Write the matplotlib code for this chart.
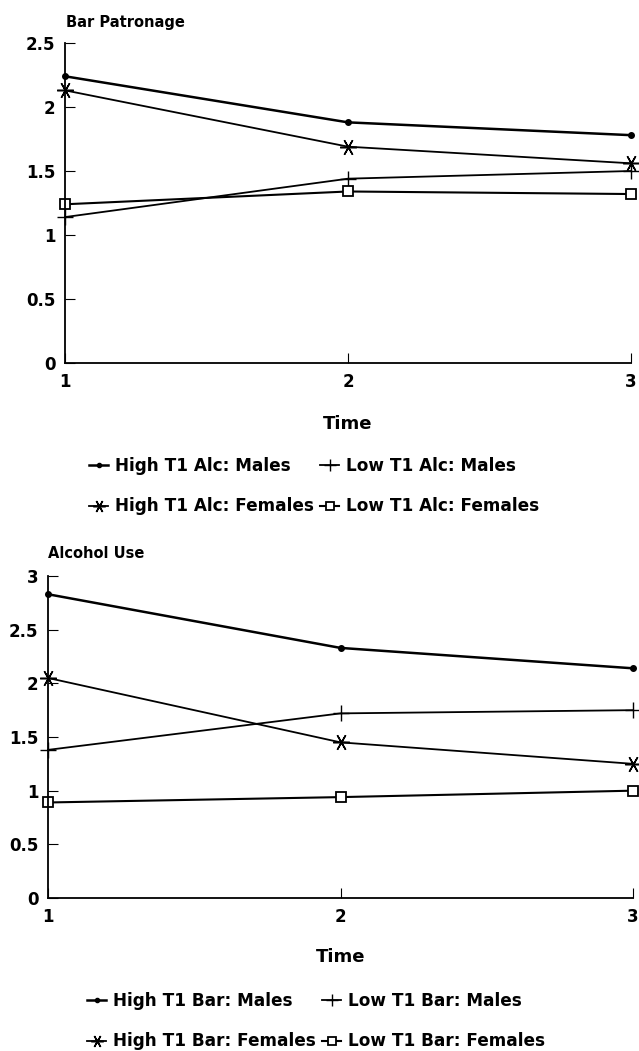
import numpy as np
import matplotlib
matplotlib.use("Agg")
import matplotlib.pyplot as plt

# ── Data ──────────────────────────────────────────────────────────────────────
time = [1, 2, 3]

# Bar Patronage (top panel)
bar_high_males   = [2.24, 1.88, 1.78]
bar_low_males    = [1.14, 1.44, 1.50]
bar_high_females = [2.13, 1.69, 1.56]
bar_low_females  = [1.24, 1.34, 1.32]
bar_labels = ["High T1 Alc: Males", "Low T1 Alc: Males",
              "High T1 Alc: Females", "Low T1 Alc: Females"]
bar_yticks = [0, 0.5, 1, 1.5, 2, 2.5]

# Alcohol Use (bottom panel)
alc_high_males   = [2.83, 2.33, 2.14]
alc_low_males    = [1.38, 1.72, 1.75]
alc_high_females = [2.05, 1.45, 1.25]
alc_low_females  = [0.89, 0.94, 1.00]
alc_labels = ["High T1 Bar: Males", "Low T1 Bar: Males",
              "High T1 Bar: Females", "Low T1 Bar: Females"]
alc_yticks = [0, 0.5, 1, 1.5, 2, 2.5, 3]

# ── Style ─────────────────────────────────────────────────────────────────────
plt.rcParams.update({
    "font.family": "DejaVu Sans",
    "font.weight": "bold",
    "font.size": 12,
})

W, H = 639, 1051
fig = plt.figure(figsize=(W / 100, H / 100), dpi=100)

ASTER = (6, 2, 90)
STYLES = [
    dict(marker="o", ms=4, mfc="black", lw=1.8),               # high males
    dict(marker="+", ms=11, mew=1.0, lw=1.3),                  # low males
    dict(marker=ASTER, ms=12, mew=1.1, lw=1.3),                # high females
    dict(marker="s", ms=7, mfc="white", mew=1.3, lw=1.5),      # low females
]


def px_axes(left, right, top, bottom):
    return fig.add_axes([left / W, 1 - bottom / H, (right - left) / W, (bottom - top) / H])


def panel(ax, series, labels, yticks, title, title_xy, time_y, leg_x, leg_y):
    lines = []
    for vals, lbl, st in zip(series, labels, STYLES):
        ln, = ax.plot(time, vals, color="black", label=lbl, clip_on=False, **st)
        lines.append(ln)
    ax.set_xlim(1, 3)
    ax.set_ylim(0, yticks[-1])
    ax.set_xticks(time)
    ax.set_yticks(yticks)
    ax.set_yticklabels([f"{t:g}" for t in yticks])
    for s in ["top", "right"]:
        ax.spines[s].set_visible(False)
    for s in ["left", "bottom"]:
        ax.spines[s].set_linewidth(1.3)
    ax.tick_params(direction="in", length=7, width=0.8, labelsize=12)
    ax.tick_params(axis="y", pad=7)
    ax.tick_params(axis="x", pad=7)
    for t in ax.get_xticklabels() + ax.get_yticklabels():
        t.set_fontweight("bold")

    fig.text(title_xy[0] / W, 1 - title_xy[1] / H, title, ha="left", va="center",
             fontsize=10.5, fontweight="bold")
    pos = ax.get_position()
    fig.text(pos.x0 + pos.width / 2, 1 - time_y / H, "Time", ha="center", va="center",
             fontsize=13, fontweight="bold")
    # column-major order: high males, high females | low males, low females
    order = [0, 2, 1, 3]
    fig.legend(handles=[lines[i] for i in order], loc="center",
               bbox_to_anchor=(leg_x / W, 1 - leg_y / H),
               ncol=2, frameon=False, handlelength=1.1, markerscale=0.75,
               handletextpad=0.4, columnspacing=0.4, labelspacing=1.35,
               prop={"weight": "bold", "size": 12.2})


ax1 = px_axes(65, 631, 43, 363)
panel(ax1, [bar_high_males, bar_low_males, bar_high_females, bar_low_females],
      bar_labels, bar_yticks, "Bar Patronage", (66, 22), 424, 314, 486)

ax2 = px_axes(48, 633, 576, 898)
panel(ax2, [alc_high_males, alc_low_males, alc_high_females, alc_low_females],
      alc_labels, alc_yticks, "Alcohol Use", (48, 554), 957, 316, 1021)

fig.savefig("out.png", dpi=100)
